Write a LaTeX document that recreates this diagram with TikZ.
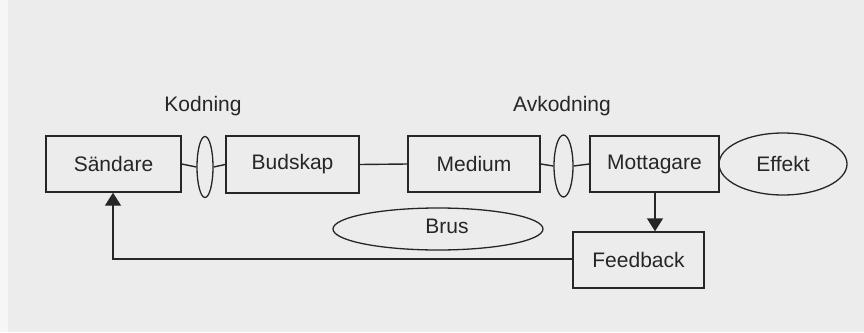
\documentclass[tikz,border=0pt]{standalone}
\usepackage{fontspec}
\setmainfont{Liberation Sans}
\usetikzlibrary{shapes.geometric,arrows.meta}
\definecolor{bg}{HTML}{ECECEC}
\definecolor{ink}{HTML}{262626}
\tikzset{
  px/.style={x=1pt,y=-1pt},
  txt/.style={font=\fontsize{21}{24}\selectfont,text=ink},
  box/.style={draw=ink,line width=1.4pt,rectangle,inner sep=0pt,txt},
  oval/.style={draw=ink,line width=1.3pt,ellipse,inner sep=0pt,txt},
  lbl/.style={txt,inner sep=0pt},
  conn/.style={draw=ink,line width=1.4pt},
  arr/.style={conn,-{Triangle[length=13pt,width=16pt]}}
}
\begin{document}
\begin{tikzpicture}[px]
\useasboundingbox (0,0) rectangle (864,332);
\fill[white!50!bg] (0,0) rectangle (864,332);
\fill[bg] (8,0) rectangle (864,332);
\node[box,minimum width=135pt,minimum height=56pt] (s) at (113.5,164) {Sändare};
\node[oval,minimum width=16pt,minimum height=61pt] (k) at (205,167) {};
\node[box,minimum width=133pt,minimum height=57pt] (b) at (292.5,164.5) {Budskap};
\node[box,minimum width=132pt,minimum height=56pt] (m) at (474,164) {Medium};
\node[oval,minimum width=19pt,minimum height=62pt] (a) at (563.5,166) {};
\node[box,minimum width=129pt,minimum height=56pt] (mo) at (654.5,164) {Mottagare};
\node[oval,minimum width=128pt,minimum height=62pt] (e) at (783,164) {Effekt};
\node[oval,minimum width=210pt,minimum height=42pt] (br) at (438,229) {};
\node[lbl] (brt) at (447,226) {Brus};
\node[box,minimum width=131pt,minimum height=56pt] (f) at (638.5,260) {Feedback};
\node[lbl] (kl) at (203,106) {Kodning};
\node[lbl] (al) at (562,106) {Avkodning};
\coordinate (c1) at (113,259);
\draw[conn] (s.east) -- (k.west);
\draw[conn] (k.east) -- (b.west);
\draw[conn] (b.east) -- (m.west);
\draw[conn] (m.east) -- (a.west);
\draw[conn] (a.east) -- (mo.west);
\draw[arr] (mo.south -| 655,0) -- (f.north -| 655,0);
\draw[arr] (f.west |- c1) -- (c1) -- (s.south -| c1);
\end{tikzpicture}
\end{document}
